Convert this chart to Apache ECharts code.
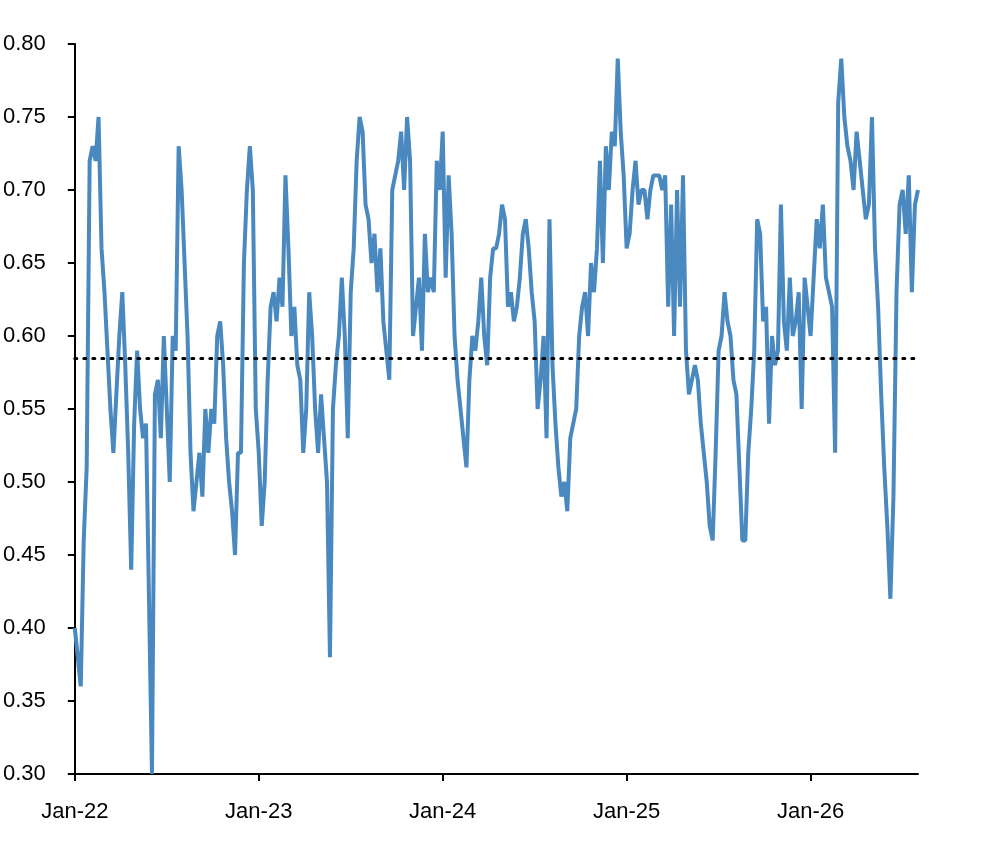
<!DOCTYPE html>
<html><head><meta charset="utf-8">
<script src="https://cdn.jsdelivr.net/npm/echarts@6/dist/echarts.min.js"></script>
<style>html,body{margin:0;padding:0;background:#fff}#c{width:1000px;height:851px}</style>
</head><body><div id="c"></div>
<script>
const v2022=[0.40,0.38,0.36,0.46,0.51,0.72,0.73,0.72,0.75,0.66,0.63,0.59,0.55,0.52,0.56,0.60,0.63,0.58,0.52,0.44,0.54,0.59,0.55,0.53,0.54,0.42,0.30,0.56,0.57,0.53,0.60,0.55,0.50,0.60,0.59,0.73,0.70,0.65,0.60,0.52,0.48,0.50,0.52,0.49,0.55,0.52,0.55,0.54,0.60,0.61,0.58,0.53,0.50,0.48,0.45,0.52,0.52,0.65,0.70,0.73,0.70,0.55];
const v2023=[0.52,0.47,0.50,0.57,0.62,0.63,0.61,0.64,0.62,0.71,0.66,0.60,0.62,0.58,0.57,0.52,0.55,0.63,0.60,0.55,0.52,0.56,0.53,0.50,0.38,0.55,0.58,0.60,0.64,0.60,0.53,0.63,0.66,0.72,0.75,0.74,0.69,0.68,0.65,0.67,0.63,0.66,0.61,0.59,0.57,0.70,0.71,0.72,0.74,0.70,0.75,0.72,0.60,0.62,0.64,0.59,0.67,0.63,0.64,0.63,0.72,0.70];
const v2024=[0.74,0.64,0.71,0.67,0.60,0.57,0.55,0.53,0.51,0.57,0.60,0.59,0.61,0.64,0.60,0.58,0.64,0.66,0.66,0.67,0.69,0.68,0.62,0.63,0.61,0.62,0.64,0.67,0.68,0.66,0.63,0.61,0.55,0.57,0.60,0.53,0.68,0.58,0.54,0.51,0.49,0.50,0.48,0.53,0.54,0.55,0.60,0.62,0.63,0.60,0.65,0.63,0.66,0.72,0.65,0.73,0.70,0.74,0.73,0.79,0.74,0.71];
const v2025=[0.66,0.67,0.70,0.72,0.69,0.70,0.70,0.68,0.70,0.71,0.71,0.71,0.70,0.71,0.62,0.69,0.60,0.70,0.62,0.71,0.59,0.56,0.57,0.58,0.57,0.54,0.52,0.50,0.47,0.46,0.52,0.59,0.60,0.63,0.61,0.60,0.57,0.56,0.51,0.46,0.46,0.52,0.55,0.59,0.68,0.67,0.61,0.62,0.54,0.60,0.58,0.59,0.69,0.61,0.59,0.64,0.60,0.61,0.63,0.55,0.64,0.62];
const v2026=[0.60,0.64,0.68,0.66,0.69,0.64,0.63,0.62,0.52,0.76,0.79,0.75,0.73,0.72,0.70,0.74,0.72,0.70,0.68,0.69,0.75,0.66,0.62,0.56,0.51,0.47,0.42,0.49,0.63,0.69,0.70,0.67,0.71,0.63,0.69,0.70];
const average=0.585;
const xTickLabels=['Jan-22','Jan-23','Jan-24','Jan-25','Jan-26'];
const endYear=2026.584;

const data=[];
[[2022,v2022,1],[2023,v2023,1],[2024,v2024,1],[2025,v2025,1],[2026,v2026,endYear-2026]].forEach(([y,arr,span])=>{
  const n=arr.length;
  arr.forEach((v,i)=>data.push([y+i*span/(y===2026?n-1:n),v]));
});
const chart=echarts.init(document.getElementById('c'));
const font='"Liberation Sans", Arial, sans-serif';
chart.setOption({
  animation:false,
  grid:{left:70,right:82,top:44,bottom:77},
  xAxis:{type:'value',min:2022,max:endYear,interval:1,
    axisLine:{lineStyle:{color:'#000',width:2}},
    axisTick:{show:true,length:7,lineStyle:{color:'#000',width:2}},
    splitLine:{show:false},
    axisLabel:{color:'#000',fontSize:22,fontFamily:font,margin:27,showMaxLabel:false,
      formatter:v=>xTickLabels[Math.round(v-2022)]||''}},
  yAxis:{type:'value',min:0.30,max:0.80,interval:0.05,
    axisLine:{show:true,lineStyle:{color:'#000',width:2}},
    axisTick:{show:true,length:7,lineStyle:{color:'#000',width:2}},
    splitLine:{show:false},
    axisLabel:{color:'#000',fontSize:22,fontFamily:font,margin:29,formatter:v=>v.toFixed(2)}},
  series:[{type:'line',data:data,showSymbol:false,
    lineStyle:{color:'#4a89c0',width:4},
    markLine:{silent:true,symbol:'none',precision:3,label:{show:false},
      lineStyle:{color:'#000',type:[2,7],width:3,cap:'round'},
      data:[{yAxis:average}]}}]
});
</script></body></html>
